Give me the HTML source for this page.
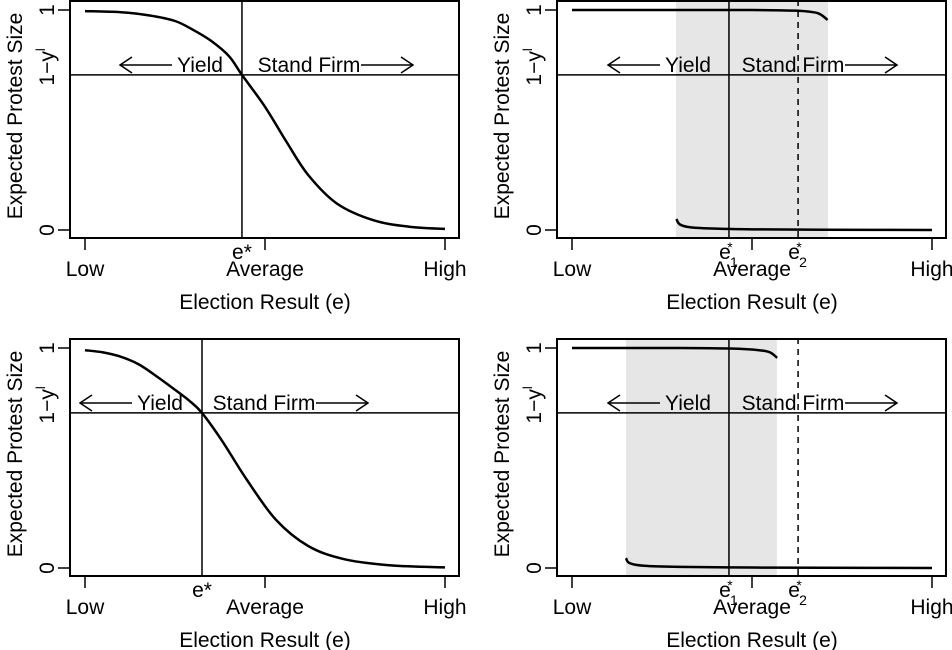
<!DOCTYPE html>
<html><head><meta charset="utf-8"><style>
body{margin:0;background:#fff}
svg{display:block;font-family:"Liberation Sans",Arial,sans-serif}
</style></head><body>
<svg id="c" width="952" height="650" viewBox="0 0 952 650"></svg>
<script>
// Data (x in election-result units: Low=0, Average=0.5, High=1; y in protest units: 0..1)
const xTickLabels = ["Low","Average","High"];
const xTickVals = [0,0.5,1];
const yTickLabels = ["0","1"];
const yTickVals = [0,1];
const threshold = 0.705; // 1 - y^l
// top-left sigmoid
const sigX1 = [0,0.1,0.18,0.25,0.3,0.35,0.4,0.436,0.5,0.56,0.62,0.7,0.8,0.9,1];
const sigY1 = [0.995,0.99,0.975,0.95,0.91,0.86,0.79,0.705,0.56,0.4,0.25,0.12,0.045,0.015,0.005];
// bottom-left sigmoid
const sigX3 = [0,0.05,0.1,0.15,0.2,0.25,0.29,0.325,0.38,0.45,0.53,0.62,0.72,0.85,1];
const sigY3 = [0.99,0.98,0.96,0.925,0.87,0.81,0.76,0.705,0.58,0.4,0.22,0.1,0.04,0.012,0.003];
const eStar = [0.436, 0.325];
// right panels: upper branch and lower branch
const upX2 = [0,0.3,0.5,0.62,0.67,0.69,0.71]; const upY2 = [1,1,1,0.997,0.99,0.98,0.955];
const loX2 = [0.29,0.3,0.33,0.4,0.5,0.7,1]; const loY2 = [0.05,0.025,0.012,0.006,0.003,0.001,0];
const upX4 = [0,0.3,0.45,0.52,0.55,0.57]; const upY4 = [1,1,0.997,0.99,0.98,0.955];
const loX4 = [0.15,0.16,0.2,0.3,0.5,0.7,1]; const loY4 = [0.045,0.022,0.01,0.005,0.002,0.001,0];
const shade2 = [0.289,0.711], shade4 = [0.15,0.569];
const e1Right = 0.436, e2Right = 0.628;

const NS="http://www.w3.org/2000/svg", svg=document.getElementById('c');
const FS=21;
function el(t,a,p){const e=document.createElementNS(NS,t);for(const k in a)e.setAttribute(k,a[k]);(p||svg).appendChild(e);return e;}
function txt(s,a,p){const e=el('text',a,p);e.textContent=s;return e;}
function spline(pts){let d=`M${pts[0][0]},${pts[0][1]}`;for(let i=0;i<pts.length-1;i++){const p0=pts[Math.max(i-1,0)],p1=pts[i],p2=pts[i+1],p3=pts[Math.min(i+2,pts.length-1)];d+=` C${p1[0]+(p2[0]-p0[0])/6},${p1[1]+(p2[1]-p0[1])/6} ${p2[0]-(p3[0]-p1[0])/6},${p2[1]-(p3[1]-p1[1])/6} ${p2[0]},${p2[1]}`;}return d;}

function panel(ox,oy,cfg,name){
  const g=el('g',{},svg);
  
  
  const X=v=>ox+85+v*360, Y=v=>oy+230-v*220;
  const L=ox+70,R=ox+459,T=oy,B=oy+238;
  if(cfg.shade){const r=el('rect',{x:X(cfg.shade[0]),y:T,width:X(cfg.shade[1])-X(cfg.shade[0]),height:B-T,fill:'#e6e6e6'},g);
    }
  const hl=el('line',{x1:L,x2:R,y1:Y(threshold),y2:Y(threshold),stroke:'#000','stroke-width':1.5},g);
  
  const vl=el('line',{x1:X(cfg.e1),x2:X(cfg.e1),y1:T,y2:B,stroke:'#000','stroke-width':1.5},g);
  
  if(cfg.e2!=null){const d=el('line',{x1:X(cfg.e2),x2:X(cfg.e2),y1:T,y2:B,stroke:'#000','stroke-width':1.5,'stroke-dasharray':'6,5'},g);
    }
  cfg.curves.forEach(([xs,ys])=>{const p=el('path',{d:spline(xs.map((x,j)=>[X(x),Y(ys[j])])),fill:'none',stroke:'#000','stroke-width':2.5},g);
    });
  const box=el('rect',{x:L,y:T+1,width:R-L,height:B-T-1,fill:'none',stroke:'#000','stroke-width':2},g);
  
  xTickVals.forEach((v,i)=>{el('line',{x1:X(v),x2:X(v),y1:B,y2:B+12,stroke:'#000','stroke-width':1.5},g);
    const t=txt(xTickLabels[i],{x:X(v),y:oy+276,'text-anchor':'middle','font-size':FS},g);
    });
  yTickVals.forEach((v,i)=>{el('line',{x1:L,x2:L-12,y1:Y(v),y2:Y(v),stroke:'#000','stroke-width':1.5},g);
    const t=txt(yTickLabels[i],{x:ox+47,y:Y(v),'text-anchor':'middle','font-size':FS,transform:`rotate(-90 ${ox+47} ${Y(v)})`,dy:7},g);
    });
  const ty=txt('',{x:ox+47,y:Y(threshold)-8,'text-anchor':'middle','font-size':FS,transform:`rotate(-90 ${ox+47} ${Y(threshold)-8})`,dy:7},g);
  ty.innerHTML='1\u2212y<tspan dy="-9" font-size="13">l</tspan>';
  
  const yl=txt('Expected Protest Size',{x:ox+15,y:oy+116,'text-anchor':'middle','font-size':FS,transform:`rotate(-90 ${ox+15} ${oy+116})`,dy:7},g);
  
  const xl=txt('Election Result (e)',{x:ox+265,y:oy+309,'text-anchor':'middle','font-size':FS},g);
  
  if(cfg.e2==null){const t=txt('e*',{x:X(cfg.e1),y:oy+259,'text-anchor':'middle','font-size':FS},g);
    }
  else{
    [[cfg.e1,'1','e1-star-label'],[cfg.e2,'2','e2-star-label']].forEach(([v,s,n])=>{
      const t=txt('',{x:X(v)-4,y:oy+259,'text-anchor':'middle','font-size':FS},g);
      t.innerHTML=`e<tspan font-size="14" x="${X(v)+1}" dy="-7">*</tspan><tspan font-size="14" x="${X(v)+5}" dy="15">${s}</tspan>`;
      });
  }
  const ay=oy+65, a=[ox+cfg.arrows[0],ox+cfg.arrows[1]];
  const yt=txt('Yield',{x:a[0],y:ay+7,'text-anchor':'middle','font-size':FS},g);
  const st=txt('Stand Firm',{x:a[1],y:ay+7,'text-anchor':'middle','font-size':FS},g);
  const la=el('path',{d:`M${a[0]-28},${ay} H${a[0]-80} M${a[0]-68},${ay-8} L${a[0]-80},${ay} L${a[0]-68},${ay+8}`,fill:'none',stroke:'#000','stroke-width':1.5},g);
  
  const ra=el('path',{d:`M${a[1]+52},${ay} H${a[1]+104} M${a[1]+92},${ay-8} L${a[1]+104},${ay} L${a[1]+92},${ay+8}`,fill:'none',stroke:'#000','stroke-width':1.5},g);
  
}
panel(0,0,{e1:eStar[0],curves:[[sigX1,sigY1]],arrows:[200,309]},'panel-top-left');
panel(487,0,{e1:e1Right,e2:e2Right,shade:shade2,curves:[[upX2,upY2],[loX2,loY2]],arrows:[201,306]},'panel-top-right');
panel(0,338,{e1:eStar[1],curves:[[sigX3,sigY3]],arrows:[160,264]},'panel-bottom-left');
panel(487,338,{e1:e1Right,e2:e2Right,shade:shade4,curves:[[upX4,upY4],[loX4,loY4]],arrows:[201,306]},'panel-bottom-right');
</script>
</body></html>
